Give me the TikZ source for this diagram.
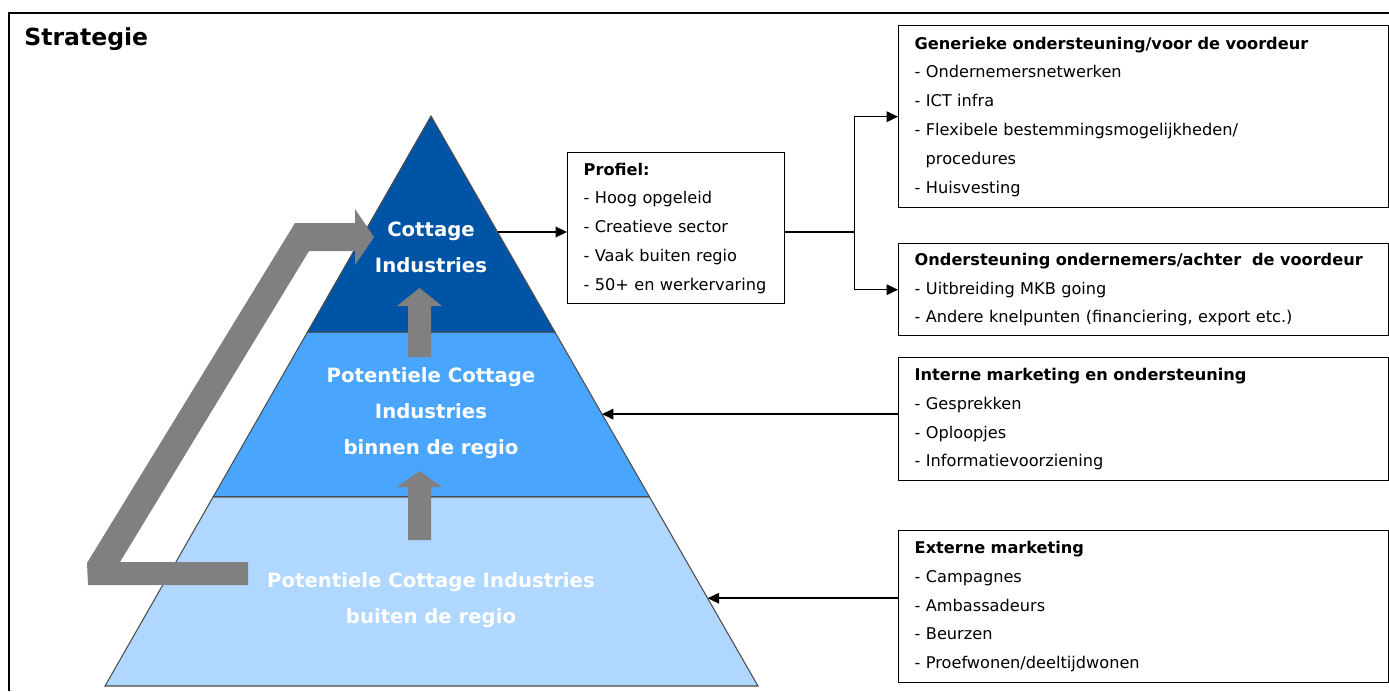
\documentclass[tikz,border=0pt]{standalone}
\usepackage{fontspec}
\setmainfont{DejaVu Sans}
\usetikzlibrary{arrows.meta,calc}

\definecolor{tiertop}{RGB}{0,84,166}
\definecolor{tiermid}{RGB}{74,165,255}
\definecolor{tierlow}{RGB}{176,215,255}
\definecolor{flowgray}{RGB}{128,128,128}

\tikzset{
  infobox/.style={draw, line width=0.8pt, anchor=north west, inner xsep=0.32cm, inner ysep=0pt, align=left, font=\fontsize{9.2}{16.4}\selectfont},
  tierlabel/.style={text=white, align=center, font=\bfseries\fontsize{11.2}{20.4}\selectfont},
  link/.style={line width=0.9pt, -{Triangle[length=6.5pt,width=6pt]}},
}

\begin{document}
\begin{tikzpicture}[x=0.02cm, y=-0.02cm]
      \useasboundingbox (0,0) rectangle (1389,691);
      \draw[line width=0.8pt] (1389,13) -- (9,13) -- (9,691);
      \node[anchor=base west, inner sep=0, font=\bfseries\fontsize{13.4}{16}\selectfont] (titel) at (24,45) {Strategie};

      % pyramid
      \coordinate (apex) at (431,116);
      \coordinate (baseL) at (105,686);
      \coordinate (baseR) at (758,686);
      \coordinate (topL) at ($(apex)!0.379!(baseL)$);
      \coordinate (topR) at ($(apex)!0.379!(baseR)$);
      \coordinate (midL) at ($(apex)!0.668!(baseL)$);
      \coordinate (midR) at ($(apex)!0.668!(baseR)$);
      \filldraw[fill=tierlow, draw=black!70, line width=0.6pt] (midL) -- (midR) -- (baseR) -- (baseL) -- cycle;
      \filldraw[fill=tiermid, draw=black!70, line width=0.6pt] (topL) -- (topR) -- (midR) -- (midL) -- cycle;
      \filldraw[fill=tiertop, draw=black!70, line width=0.6pt] (apex) -- (topR) -- (topL) -- cycle;

      % gray flow arrows
      \fill[flowgray] (248,562) -- (120,562) -- (309,251) -- (355,251) -- (355,265) -- (374,237) -- (355,209) -- (355,223) -- (295,223) -- (87,563) -- (88,585) -- (248,585) -- cycle;
      \foreach \yb/\yh/\yt in {357/306/288, 540/487/471}
        \fill[flowgray] (408,\yb) -- (408,\yh) -- (397,\yh) -- (419.5,\yt) -- (442,\yh) -- (431,\yh) -- (431,\yb) -- cycle;

      \node[tierlabel] (cottage) at (431,247) {Cottage\\Industries};
      \node[tierlabel] (binnen) at (431,413) {Potentiele Cottage\\Industries\\binnen de regio};
      \node[tierlabel] (buiten) at (431,600) {Potentiele Cottage Industries\\buiten de regio};

      % boxes
      \node[infobox, text width=3.7cm, minimum height=3.02cm] (profiel) at (567,152) {\textbf{Profiel:}\\- Hoog opgeleid\\- Creatieve sector\\- Vaak buiten regio\\- 50+ en werkervaring};
      \node[infobox, text width=9.16cm, minimum height=3.64cm] (generiek) at (898,25) {\textbf{Generieke ondersteuning/voor de voordeur}\\- Ondernemersnetwerken\\- ICT infra\\- Flexibele bestemmingsmogelijkheden/\\\hspace*{0.22cm}procedures\\- Huisvesting};
      \node[infobox, text width=9.16cm, minimum height=1.84cm] (onderst) at (898,243) {\textbf{Ondersteuning ondernemers/achter\ \ de voordeur}\\- Uitbreiding MKB going\\- Andere knelpunten (financiering, export etc.)};
      \node[infobox, text width=9.16cm, minimum height=2.46cm] (interne) at (898,357) {\textbf{Interne marketing en ondersteuning}\\- Gesprekken\\- Oploopjes\\- Informatievoorziening};
      \node[infobox, text width=9.16cm, minimum height=3.04cm] (externe) at (898,530) {\textbf{Externe marketing}\\- Campagnes\\- Ambassadeurs\\- Beurzen\\- Proefwonen/deeltijdwonen};

      % connectors
      \coordinate (cotEdge) at ($(apex)!0.2035!(baseR)$);
      \coordinate (inEdge) at ($(apex)!0.523!(baseR)$);
      \coordinate (exEdge) at ($(apex)!0.846!(baseR)$);
      \draw[link] (cotEdge) -- (cotEdge -| profiel.west);
      \coordinate (fork) at ($(cotEdge -| profiel.east)+(69,0)$);
      \draw[line width=0.9pt] (cotEdge -| profiel.east) -- (fork);
      \draw[link] (fork) |- (generiek.west);
      \draw[link] (fork) |- (onderst.west);
      \draw[link] (interne.west |- inEdge) -- (inEdge);
      \draw[link] (externe.west |- exEdge) -- (exEdge);
\end{tikzpicture}
\end{document}
